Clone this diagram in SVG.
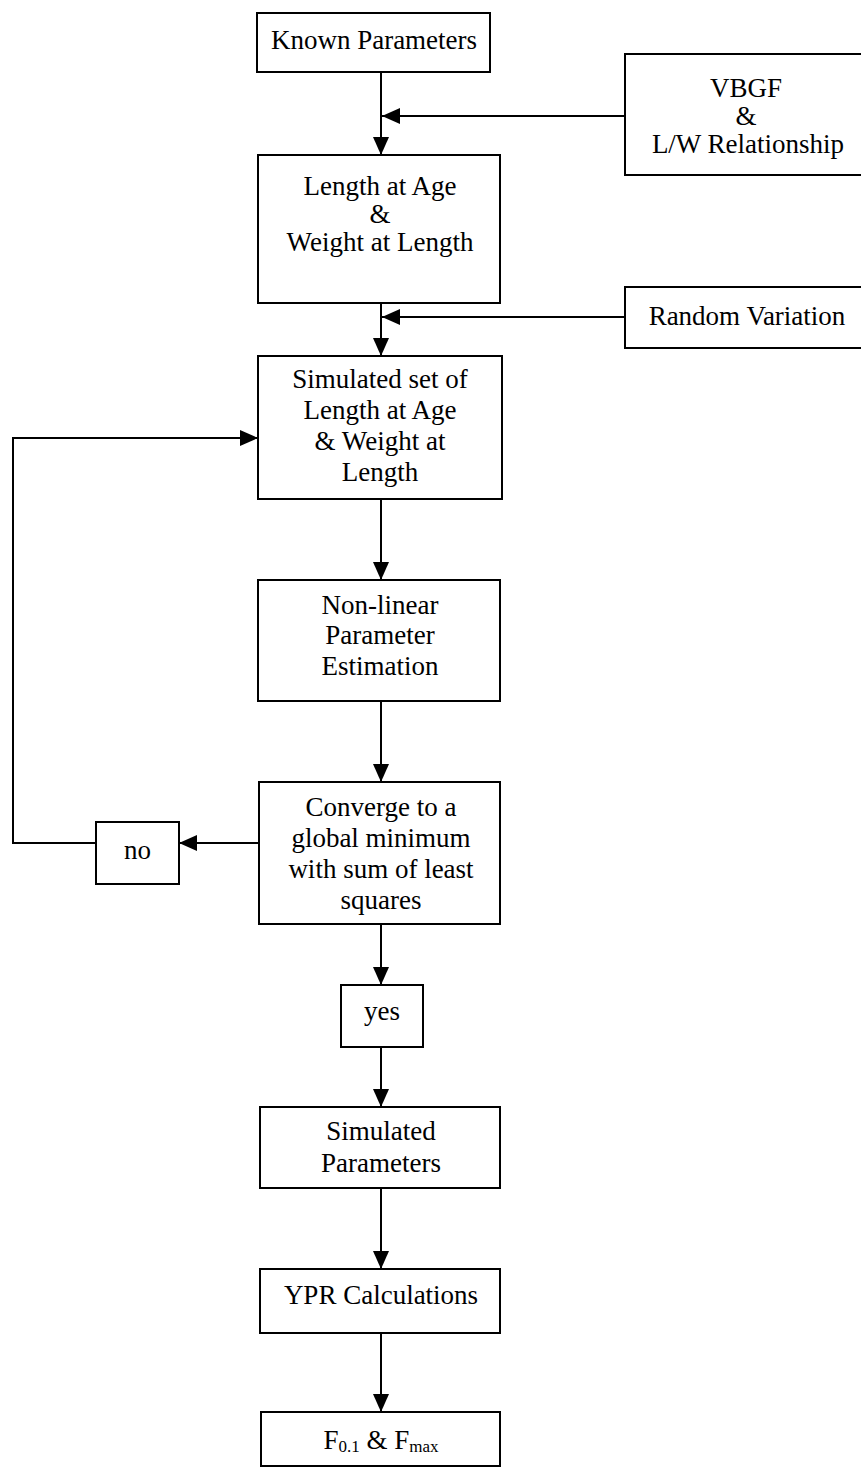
<svg xmlns="http://www.w3.org/2000/svg" width="861" height="1469" viewBox="0 0 861 1469">
<style>
.box{fill:#fff;stroke:#000;stroke-width:2}
.t{font-family:"Liberation Serif","Times New Roman",serif;font-size:27px;fill:#000;text-anchor:middle}
.c{fill:none;stroke:#000;stroke-width:2}
.sub{font-size:17px}
</style>
<defs>
<marker id="ah" markerUnits="userSpaceOnUse" markerWidth="18" markerHeight="16" refX="18" refY="8" orient="auto">
<path d="M0,0 L18,8 L0,16 Z" fill="#000"/>
</marker>
</defs>
<rect width="861" height="1469" fill="#fff"/>
<g id="connectors">
<line class="c" x1="381" y1="72" x2="381" y2="155" marker-end="url(#ah)"/>
<line class="c" x1="625" y1="116" x2="382" y2="116" marker-end="url(#ah)"/>
<line class="c" x1="381" y1="303" x2="381" y2="356" marker-end="url(#ah)"/>
<line class="c" x1="625" y1="317" x2="382" y2="317" marker-end="url(#ah)"/>
<line class="c" x1="381" y1="499" x2="381" y2="580" marker-end="url(#ah)"/>
<line class="c" x1="381" y1="701" x2="381" y2="782" marker-end="url(#ah)"/>
<line class="c" x1="259" y1="843" x2="179" y2="843" marker-end="url(#ah)"/>
<polyline class="c" points="96,843 13,843 13,438 258,438" marker-end="url(#ah)"/>
<line class="c" x1="381" y1="924" x2="381" y2="985" marker-end="url(#ah)"/>
<line class="c" x1="381" y1="1047" x2="381" y2="1107" marker-end="url(#ah)"/>
<line class="c" x1="381" y1="1188" x2="381" y2="1269" marker-end="url(#ah)"/>
<line class="c" x1="381" y1="1333" x2="381" y2="1412" marker-end="url(#ah)"/>
</g>
<g id="known">
<rect class="box" x="257" y="13" width="233" height="59"/>
<text class="t" x="374" y="49">Known Parameters</text>
</g>
<g id="vbgf">
<rect class="box" x="625" y="54" width="240" height="121"/>
<text class="t" x="746" y="97">VBGF</text>
<text class="t" x="746" y="125">&amp;</text>
<text class="t" x="748" y="153">L/W Relationship</text>
</g>
<g id="length">
<rect class="box" x="258" y="155" width="242" height="148"/>
<text class="t" x="380" y="195">Length at Age</text>
<text class="t" x="380" y="223">&amp;</text>
<text class="t" x="380" y="251">Weight at Length</text>
</g>
<g id="random">
<rect class="box" x="625" y="287" width="240" height="61"/>
<text class="t" x="747" y="325">Random Variation</text>
</g>
<g id="simulated-set">
<rect class="box" x="258" y="356" width="244" height="143"/>
<text class="t" x="380" y="388">Simulated set of</text>
<text class="t" x="380" y="419">Length at Age</text>
<text class="t" x="380" y="450">&amp; Weight at</text>
<text class="t" x="380" y="481">Length</text>
</g>
<g id="nonlinear">
<rect class="box" x="258" y="580" width="242" height="121"/>
<text class="t" x="380" y="614">Non-linear</text>
<text class="t" x="380" y="644">Parameter</text>
<text class="t" x="380" y="675">Estimation</text>
</g>
<g id="converge">
<rect class="box" x="259" y="782" width="241" height="142"/>
<text class="t" x="381" y="816">Converge to a</text>
<text class="t" x="381" y="847">global minimum</text>
<text class="t" x="381" y="878">with sum of least</text>
<text class="t" x="381" y="909">squares</text>
</g>
<g id="no">
<rect class="box" x="96" y="822" width="83" height="62"/>
<text class="t" x="137.5" y="859">no</text>
</g>
<g id="yes">
<rect class="box" x="341" y="985" width="82" height="62"/>
<text class="t" x="382" y="1020">yes</text>
</g>
<g id="simulated-params">
<rect class="box" x="260" y="1107" width="240" height="81"/>
<text class="t" x="381" y="1140">Simulated</text>
<text class="t" x="381" y="1172">Parameters</text>
</g>
<g id="ypr">
<rect class="box" x="260" y="1269" width="240" height="64"/>
<text class="t" x="381" y="1304">YPR Calculations</text>
</g>
<g id="f">
<rect class="box" x="261" y="1412" width="239" height="54"/>
<text class="t" x="381" y="1449">F<tspan class="sub" dy="3">0.1</tspan><tspan dy="-3"> &amp; F</tspan><tspan class="sub" dy="3">max</tspan></text>
</g>
</svg>
